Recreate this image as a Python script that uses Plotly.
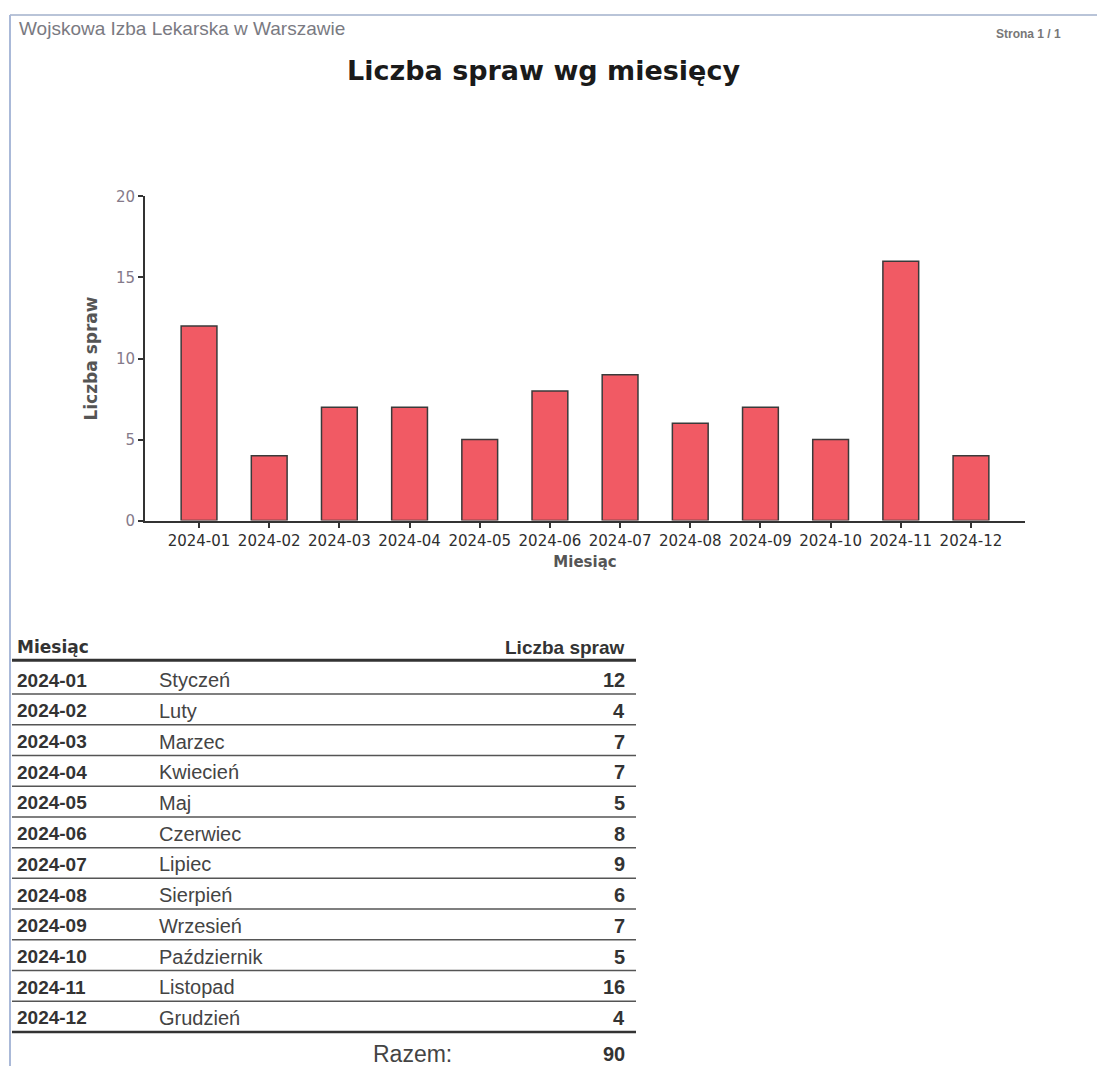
import plotly.graph_objects as go

# ---- data ----
months = ["2024-01", "2024-02", "2024-03", "2024-04", "2024-05", "2024-06",
          "2024-07", "2024-08", "2024-09", "2024-10", "2024-11", "2024-12"]
month_names = ["Styczeń", "Luty", "Marzec", "Kwiecień", "Maj", "Czerwiec",
               "Lipiec", "Sierpień", "Wrzesień", "Październik", "Listopad", "Grudzień"]
counts = [12, 4, 7, 7, 5, 8, 9, 6, 7, 5, 16, 4]
y_ticks = [0, 5, 10, 15, 20]

W, H = 1097, 1075
VS, VO = 0.986, 8.0  # vertical calibration of page coordinates


def px(x):
    return x / W


def py(y):
    return 1 - ((y - VO) / VS) / H


fig = go.Figure()
fig.add_trace(go.Bar(
    x=months, y=counts, width=0.51,
    marker=dict(color="#f15a64", line=dict(color="#3a3a3a", width=1.5)),
    showlegend=False, hoverinfo="x+y",
))

fig.update_layout(
    width=W, height=H,
    margin=dict(l=0, r=0, t=0, b=0),
    paper_bgcolor="white", plot_bgcolor="white",
    font=dict(family="DejaVu Sans", color="#333"),
    bargap=0.49,
    xaxis=dict(
        domain=[px(145), px(1025)], type="category",
        range=[-0.77, 11.77],
        showline=True, linecolor="#333", linewidth=2,
        ticks="outside", ticklen=5, tickcolor="#333", tickwidth=1.5,
        showgrid=False, zeroline=False,
        tickfont=dict(family="DejaVu Sans", size=15, color="#2e2e2e"),
        title=dict(text="<b>Miesiąc</b>", standoff=8,
                   font=dict(family="DejaVu Sans", size=15, color="#555")),
    ),
    yaxis=dict(
        domain=[py(521), py(196)], range=[0, 20],
        tickvals=y_ticks,
        showline=True, linecolor="#333", linewidth=2,
        ticks="outside", ticklen=5, tickcolor="#333", tickwidth=1.5,
        showgrid=False, zeroline=False,
        tickfont=dict(family="DejaVu Sans", size=15, color="#857a8a"),
        title=dict(text="<b>Liczba spraw</b>", standoff=14,
                   font=dict(family="DejaVu Sans", size=17, color="#555")),
    ),
)

shapes = []
annotations = []

# page border lines
shapes.append(dict(type="line", xref="paper", yref="paper",
                   x0=px(10), x1=px(1097), y0=py(14), y1=py(14),
                   line=dict(color="#b9c4d8", width=2)))
shapes.append(dict(type="line", xref="paper", yref="paper",
                   x0=px(10), x1=px(10), y0=py(14), y1=0,
                   line=dict(color="#aab9d8", width=2)))

# header texts
annotations.append(dict(text="Wojskowa Izba Lekarska w Warszawie", xref="paper", yref="paper",
                        x=px(17), y=py(28), xanchor="left", yanchor="middle", showarrow=False,
                        font=dict(family="Liberation Sans", size=19, color="#7a7a82")))
annotations.append(dict(text="<b>Strona 1 / 1</b>", xref="paper", yref="paper",
                        x=px(1063), y=py(33), xanchor="right", yanchor="middle", showarrow=False,
                        font=dict(family="Liberation Sans", size=12, color="#777")))
annotations.append(dict(text="<b>Liczba spraw wg miesięcy</b>", xref="paper", yref="paper",
                        x=px(543), y=py(70), xanchor="center", yanchor="middle", showarrow=False,
                        font=dict(family="DejaVu Sans", size=27, color="#1a1a1a")))

# table
left, right = 12, 636
val_x = 627
row0, row_h = 681, 30.8
annotations.append(dict(text="<b>Miesiąc</b>", xref="paper", yref="paper",
                        x=px(15), y=py(648), xanchor="left", yanchor="middle", showarrow=False,
                        font=dict(family="DejaVu Sans", size=17, color="#333")))
annotations.append(dict(text="<b>Liczba spraw</b>", xref="paper", yref="paper",
                        x=px(val_x), y=py(648), xanchor="right", yanchor="middle", showarrow=False,
                        font=dict(family="Liberation Sans", size=19, color="#333")))
shapes.append(dict(type="line", xref="paper", yref="paper",
                   x0=px(left), x1=px(right), y0=py(661), y1=py(661),
                   line=dict(color="#333", width=3)))

for i, (m, n, c) in enumerate(zip(months, month_names, counts)):
    yc = row0 + row_h * i
    annotations.append(dict(text="<b>" + m + "</b>", xref="paper", yref="paper",
                            x=px(15), y=py(yc), xanchor="left", yanchor="middle", showarrow=False,
                            font=dict(family="Liberation Sans", size=19, color="#333")))
    annotations.append(dict(text=n, xref="paper", yref="paper",
                            x=px(157), y=py(yc), xanchor="left", yanchor="middle", showarrow=False,
                            font=dict(family="Liberation Sans", size=20, color="#444")))
    annotations.append(dict(text="<b>" + str(c) + "</b>", xref="paper", yref="paper",
                            x=px(val_x), y=py(yc), xanchor="right", yanchor="middle", showarrow=False,
                            font=dict(family="Liberation Sans", size=20, color="#333")))
    ly = yc + 14
    last = i == len(months) - 1
    shapes.append(dict(type="line", xref="paper", yref="paper",
                       x0=px(left), x1=px(right), y0=py(ly), y1=py(ly),
                       line=dict(color="#333" if last else "#555", width=2.5 if last else 1.5)))

total = sum(counts)
yt = row0 + row_h * len(months) + 5
annotations.append(dict(text="Razem:", xref="paper", yref="paper",
                        x=px(412), y=py(yt), xanchor="center", yanchor="middle", showarrow=False,
                        font=dict(family="Liberation Sans", size=23, color="#444")))
annotations.append(dict(text="<b>" + str(total) + "</b>", xref="paper", yref="paper",
                        x=px(val_x), y=py(yt), xanchor="right", yanchor="middle", showarrow=False,
                        font=dict(family="Liberation Sans", size=20, color="#333")))

fig.update_layout(shapes=shapes, annotations=annotations)
fig.write_html("out.html", config={"displayModeBar": False},
               post_script="document.body.style.margin='0';document.body.style.overflow='hidden';")
